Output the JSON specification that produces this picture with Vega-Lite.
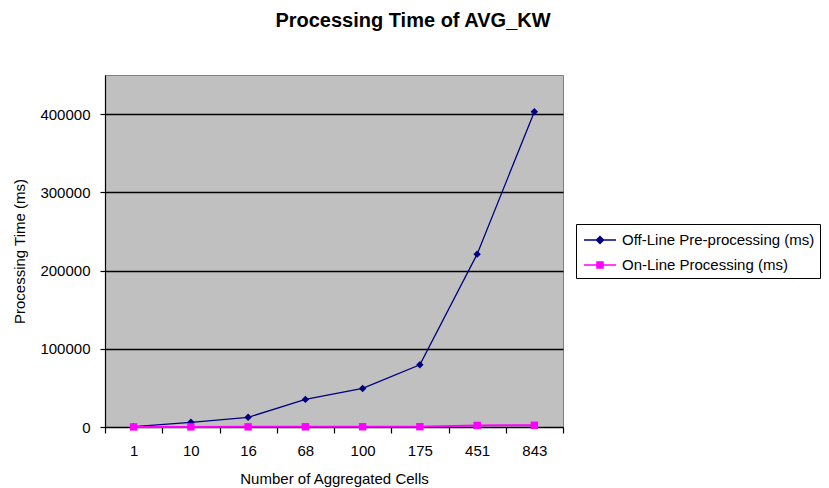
{
  "$schema": "https://vega.github.io/schema/vega-lite/v6.json",
  "width": 458,
  "height": 352,
  "autosize": {"type": "none"},
  "padding": {"left": 105, "top": 75, "right": 266, "bottom": 61},
  "background": "white",
  "title": {"text": "Processing Time of AVG_KW", "font": "Liberation Sans", "fontSize": 20, "fontWeight": "bold", "color": "black", "anchor": "middle", "dx": 79, "offset": 44},
  "config": {
    "view": {"fill": "#C0C0C0", "stroke": "#808080", "strokeWidth": 1},
    "axis": {"domainColor": "black", "tickColor": "black", "labelColor": "black", "titleColor": "black", "labelFont": "Liberation Sans", "titleFont": "Liberation Sans", "labelFontSize": 15, "titleFontSize": 15, "titleFontWeight": "normal", "domainWidth": 1.2, "tickWidth": 1.2}
  },
  "data": {"values": [
    {"series": "Off-Line Pre-processing (ms)", "cells": "1", "time": 500},
    {"series": "Off-Line Pre-processing (ms)", "cells": "10", "time": 6000},
    {"series": "Off-Line Pre-processing (ms)", "cells": "16", "time": 12400},
    {"series": "Off-Line Pre-processing (ms)", "cells": "68", "time": 35300},
    {"series": "Off-Line Pre-processing (ms)", "cells": "100", "time": 49300},
    {"series": "Off-Line Pre-processing (ms)", "cells": "175", "time": 79500},
    {"series": "Off-Line Pre-processing (ms)", "cells": "451", "time": 221000},
    {"series": "Off-Line Pre-processing (ms)", "cells": "843", "time": 403000},
    {"series": "On-Line Processing (ms)", "cells": "1", "time": 100},
    {"series": "On-Line Processing (ms)", "cells": "10", "time": 150},
    {"series": "On-Line Processing (ms)", "cells": "16", "time": 200},
    {"series": "On-Line Processing (ms)", "cells": "68", "time": 250},
    {"series": "On-Line Processing (ms)", "cells": "100", "time": 300},
    {"series": "On-Line Processing (ms)", "cells": "175", "time": 400},
    {"series": "On-Line Processing (ms)", "cells": "451", "time": 2000},
    {"series": "On-Line Processing (ms)", "cells": "843", "time": 2200}
  ]},
  "encoding": {
    "x": {"field": "cells", "type": "ordinal", "sort": ["1", "10", "16", "68", "100", "175", "451", "843"], "scale": {"paddingInner": 0, "paddingOuter": 0}, "axis": {"title": "Number of Aggregated Cells", "labelAngle": 0, "tickBand": "extent", "tickSize": 6, "labelPadding": 10, "titlePadding": 13}},
    "y": {"field": "time", "type": "quantitative", "scale": {"domain": [0, 450000], "nice": false}, "axis": {"title": "Processing Time (ms)", "values": [0, 100000, 200000, 300000, 400000], "format": "d", "grid": true, "gridColor": "black", "gridOpacity": 1, "gridWidth": 1.3, "tickSize": 5, "labelPadding": 10, "titlePadding": 12}}
  },
  "layer": [
    {"transform": [{"filter": "datum.series === 'Off-Line Pre-processing (ms)'"}], "mark": {"type": "line", "color": "#000080", "strokeWidth": 1.3}, "encoding": {"order": {"value": null}}},
    {"transform": [{"filter": "datum.series === 'On-Line Processing (ms)'"}], "mark": {"type": "line", "color": "#FF00FF", "strokeWidth": 2}, "encoding": {"order": {"value": null}}},
    {"transform": [{"filter": "datum.series === 'Off-Line Pre-processing (ms)'"}], "mark": {"type": "point", "shape": "diamond", "filled": true, "color": "#000080", "size": 55, "opacity": 1}},
    {"transform": [{"filter": "datum.series === 'On-Line Processing (ms)'"}], "mark": {"type": "point", "shape": "square", "filled": true, "color": "#FF00FF", "size": 55, "opacity": 1}},
    {"mark": {"type": "point", "opacity": 0, "filled": true},
     "encoding": {
       "color": {"field": "series", "type": "nominal", "scale": {"domain": ["Off-Line Pre-processing (ms)", "On-Line Processing (ms)"], "range": ["#000080", "#FF00FF"]},
         "legend": {"orient": "none", "legendX": 471, "legendY": 149, "title": null, "strokeColor": "black", "fillColor": "white", "padding": 5, "symbolOffset": 8, "symbolSize": 400, "symbolStrokeWidth": 1.5, "symbolOpacity": 1, "labelOffset": 11, "labelFont": "Liberation Sans", "labelFontSize": 15, "labelColor": "black", "labelLimit": 400, "rowPadding": 6,
           "encode": {"symbols": {"update": {"fill": {"scale": "color", "field": "value"}, "stroke": {"scale": "color", "field": "value"}, "strokeWidth": {"value": 1.5}, "opacity": {"value": 1}}}}}},
       "shape": {"field": "series", "type": "nominal", "scale": {"domain": ["Off-Line Pre-processing (ms)", "On-Line Processing (ms)"], "range": ["M-1.6,0H1.6M0,-0.35L0.35,0L0,0.35L-0.35,0Z", "M-1.6,0H1.6M-0.3,-0.3H0.3V0.3H-0.3Z"]}}
     }}
  ]
}
